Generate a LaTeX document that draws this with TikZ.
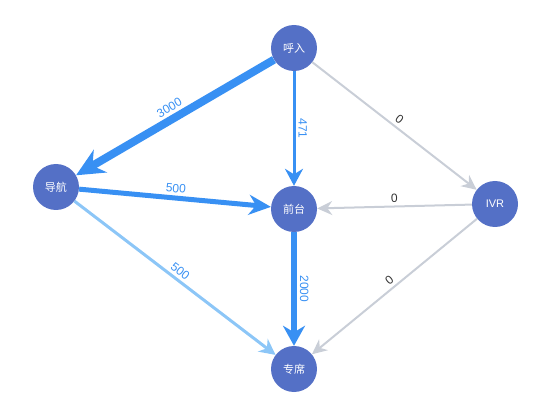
\documentclass[tikz,border=0pt]{standalone}
\usepackage{fontspec}
\setmainfont{Liberation Sans}
\newfontfamily\cjk{Noto Sans CJK SC}
\usepackage{tikz}
\usetikzlibrary{arrows.meta,positioning}
\usepackage{xcolor}
\definecolor{nodeblue}{HTML}{5470C6}
\definecolor{flowblue}{HTML}{3890F3}
\definecolor{flowlight}{HTML}{8CC6F7}
\definecolor{flowgray}{HTML}{C9CED7}
\definecolor{labgray}{HTML}{333333}

\begin{document}
\begin{tikzpicture}[x=1pt, y=-1pt,
  stn/.style={circle, fill=nodeblue, text=white, minimum size=46pt, inner sep=0pt,
    font=\cjk\fontsize{11}{13}\selectfont},
  lab/.style={midway, sloped, above, inner sep=3pt, font=\fontsize{12}{14}\selectfont},
  blueflow/.style={draw=flowblue},
  grayflow/.style={draw=flowgray, line width=2pt, -{Stealth[length=15pt,width=14pt]}}]
\useasboundingbox (0,0) rectangle (550,420);
% Nodi del flusso chiamate
\node[stn] (hr) at (294,48) {呼入};
\node[stn] (dh) at (56,187) {导航};
\node[stn] (qt) at (294,209) {前台};
\node[stn, font=\fontsize{11}{13}\selectfont] (ivr) at (495,204) {IVR};
\node[stn] (zx) at (294,369) {专席};
% Archi principali (blu)
\draw[blueflow, line width=8pt, -{Stealth[length=28pt,width=26pt]}] (hr) -- (dh)
  node[lab, text=flowblue]{3000};
\draw[blueflow, line width=3pt, -{Stealth[length=17pt,width=18pt]}] (hr) -- (qt)
  node[lab, text=flowblue]{471};
\draw[blueflow, line width=5pt, -{Stealth[length=22pt,width=20pt]}] (dh) -- (qt)
  node[lab, text=flowblue]{500};
\draw[blueflow, line width=6pt, -{Stealth[length=20pt,width=22pt]}] (qt) -- (zx)
  node[lab, text=flowblue]{2000};
\draw[draw=flowlight, line width=3pt, -{Stealth[length=16pt,width=16pt]}] (dh) -- (zx)
  node[lab, text=flowblue]{500};
% Archi vuoti (grigio)
\draw[grayflow] (hr) -- (ivr) node[lab, text=labgray]{0};
\draw[grayflow] (ivr) -- (qt) node[lab, text=labgray]{0};
\draw[grayflow] (ivr) -- (zx) node[lab, text=labgray]{0};
\end{tikzpicture}
\end{document}
